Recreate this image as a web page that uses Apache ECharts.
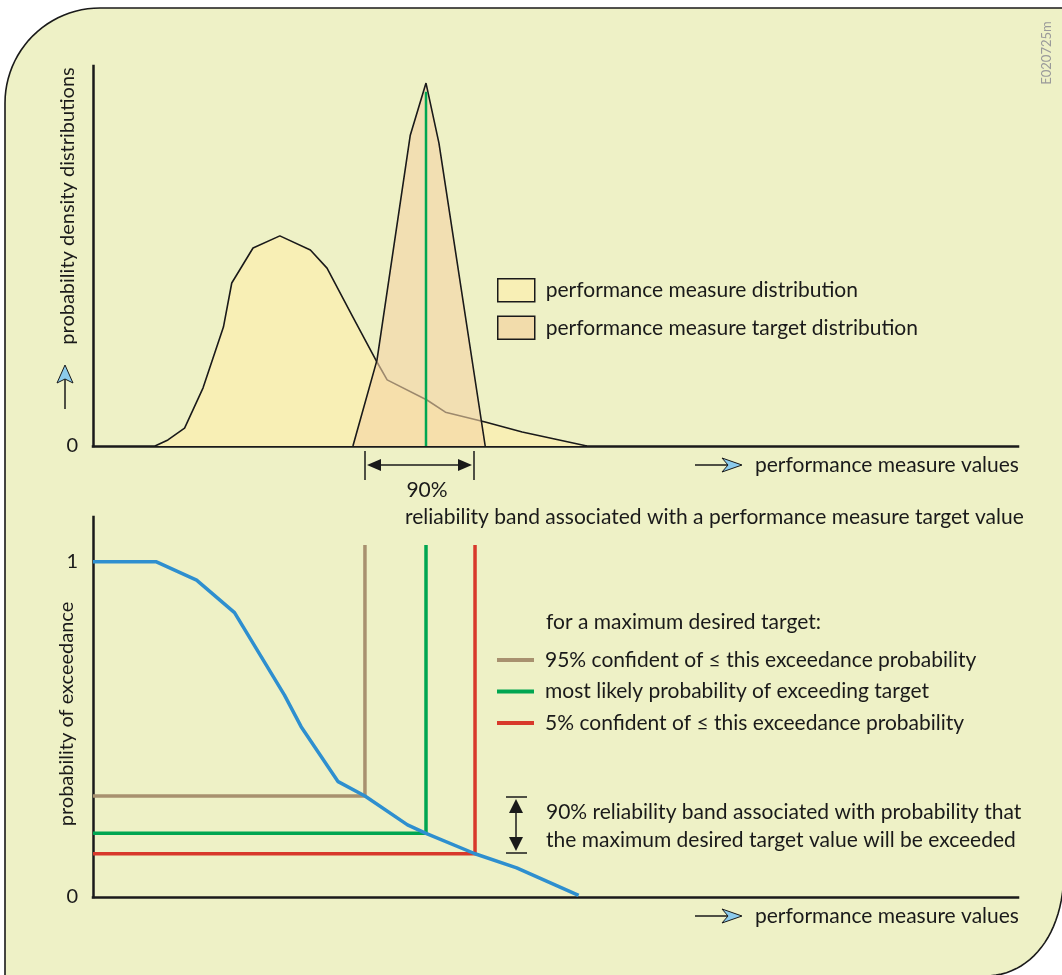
<!DOCTYPE html>
<html>
<head>
<meta charset="utf-8">
<script src="https://cdn.jsdelivr.net/npm/echarts@6/dist/echarts.min.js"></script>
<style>
  html, body { margin: 0; padding: 0; background: #ffffff; }
  #chart { width: 1062px; height: 975px; }
</style>
</head>
<body>
<div id="chart"></div>
<script>
// ---------- data ----------
// top panel: probability density of the performance measure
const perfX = [6.7, 8.1, 9.9, 11.9, 14.1, 15.0, 17.3, 20.2, 23.5, 25.3, 28.1, 30.7, 31.8, 36.1, 38.1, 42.4, 46.4, 53.4];
const perfY = [0, 1.6, 4.7, 15.3, 31.3, 42.9, 52.1, 55.3, 51.6, 46.8, 33.9, 22.1, 17.4, 12.1, 8.9, 6.3, 3.7, 0];
// top panel: target distribution
const targetX = [28.1, 30.7, 34.3, 36.0, 37.4, 42.4];
const targetY = [0, 22.6, 81.8, 95.5, 79.7, 0];
// most likely target value (green marker in the top panel)
const mostLikelyX = 36.0;
const mostLikelyTop = 93.2;
// bottom panel: probability of exceedance curve
const excX = [0, 6.8, 11.2, 15.3, 20.7, 22.5, 26.5, 29.4, 34.0, 36.0, 41.3, 45.8, 52.5];
const excY = [1.0, 1.0, 0.945, 0.848, 0.602, 0.508, 0.344, 0.301, 0.215, 0.190, 0.129, 0.087, 0.005];
// bottom panel: target quantiles and their exceedance probabilities
const quantileNames = [
  '95% confident of \u2264 this exceedance probability',
  'most likely probability of exceeding target',
  '5% confident of \u2264 this exceedance probability'
];
const quantileX = [29.4, 36.0, 41.3];
const quantileP = [0.301, 0.190, 0.129];
const quantileTop = 1.05;
// labels
const densityNames = ['performance measure distribution', 'performance measure target distribution'];
const yTickLabelsTop = { 0: '0' };
const yTickLabelsBottom = { 0: '0', 1: '1' };

// ---------- styles ----------
const FONT = 'Lato';
const FS = 21;
const INK = '#1a1a1a';
const quantileColors = ['#a8916f', '#00a651', '#d8392b'];

const chart = echarts.init(document.getElementById('chart'), null, { renderer: 'canvas' });

function zip(a, b) { return a.map((v, i) => [v, b[i]]); }

const axisLineStyle = { color: INK, width: 2.5, cap: 'square' };

const series = [
  {
    name: densityNames[0], type: 'line', xAxisIndex: 0, yAxisIndex: 0,
    data: zip(perfX, perfY), symbol: 'none', z: 2,
    itemStyle: { color: '#f8efb5' },
    lineStyle: { color: INK, width: 1.6 },
    areaStyle: { color: '#f8efb5', opacity: 1 }
  },
  {
    name: densityNames[1], type: 'line', xAxisIndex: 0, yAxisIndex: 0,
    data: zip(targetX, targetY), symbol: 'none', z: 3,
    itemStyle: { color: '#f2dcab' },
    lineStyle: { color: INK, width: 1.6 },
    areaStyle: { color: '#f5d3a5', opacity: 0.6 }
  },
  {
    name: 'most likely target', type: 'line', xAxisIndex: 0, yAxisIndex: 0,
    data: [[mostLikelyX, 0], [mostLikelyX, mostLikelyTop]], symbol: 'none', z: 4,
    lineStyle: { color: '#00a651', width: 2.5 }
  }
];
quantileNames.forEach((n, i) => {
  series.push({
    name: n, type: 'line', xAxisIndex: 1, yAxisIndex: 1,
    data: [[0, quantileP[i]], [quantileX[i], quantileP[i]], [quantileX[i], quantileTop]],
    symbol: 'none', z: 3,
    itemStyle: { color: quantileColors[i] },
    lineStyle: { color: quantileColors[i], width: 3.5, join: 'miter' }
  });
});
series.push({
  name: 'probability of exceedance', type: 'line', xAxisIndex: 1, yAxisIndex: 1,
  data: zip(excX, excY), symbol: 'none', z: 5,
  lineStyle: { color: '#2e8fcf', width: 3.5 }
});

// ---------- decorations ----------
function panelOutline() {
  const pts = [[5, 995]];
  for (let i = 0; i <= 24; i++) {
    const a = Math.PI + (Math.PI / 2) * (i / 24);
    pts.push([100 + 95 * Math.cos(a), 103 + 95 * Math.sin(a)]);
  }
  pts.push([1064, 8]);
  const p0 = [1064, 870], p1 = [1064, 935], p2 = [1030, 976], p3 = [985, 976];
  for (let i = 0; i <= 24; i++) {
    const t = i / 24, u = 1 - t;
    pts.push([
      u * u * u * p0[0] + 3 * u * u * t * p1[0] + 3 * u * t * t * p2[0] + t * t * t * p3[0],
      u * u * u * p0[1] + 3 * u * u * t * p1[1] + 3 * u * t * t * p2[1] + t * t * t * p3[1]
    ]);
  }
  pts.push([985, 995]);
  return pts;
}

const txt = (text, x, y, extra) => ({
  type: 'text', x: x, y: y, z: 100,
  style: Object.assign({ text: text, fill: INK, font: FS + 'px ' + FONT, textVerticalAlign: 'middle', verticalAlign: 'middle' }, extra || {})
});
const ln = (x1, y1, x2, y2, w) => ({
  type: 'line', z: 100, shape: { x1: x1, y1: y1, x2: x2, y2: y2 },
  style: { stroke: INK, lineWidth: w || 1.5 }
});
const poly = (pts, fill, stroke) => ({
  type: 'polygon', z: 101, shape: { points: pts },
  style: { fill: fill, stroke: stroke || null, lineWidth: 1 }
});

const graphic = [
  {
    type: 'polygon', z: -10, silent: true,
    shape: { points: panelOutline() },
    style: { fill: '#eef1c6', stroke: INK, lineWidth: 1.6 }
  },
  Object.assign(txt('probability density distributions', 68, 206, { font: '20px ' + FONT, align: 'center', textAlign: 'center' }), { rotation: Math.PI / 2 }),
  Object.assign(txt('probability of exceedance', 67, 714, { font: '20px ' + FONT, align: 'center', textAlign: 'center' }), { rotation: Math.PI / 2 }),
  ln(65, 379, 65, 409, 1.5),
  poly([[65, 365], [57, 383], [65, 379], [73, 383]], '#8ccbec', INK),
  txt('performance measure values', 755, 465),
  ln(695, 465, 729, 465, 1.5),
  poly([[742, 465], [722, 458], [728, 465], [722, 472]], '#8ccbec', INK),
  txt('performance measure values', 755, 916),
  ln(695, 916, 729, 916, 1.5),
  poly([[742, 916], [722, 909], [728, 916], [722, 923]], '#8ccbec', INK),
  ln(365, 451, 365, 480, 1.5),
  ln(474, 451, 474, 480, 1.5),
  ln(375, 465, 464, 465, 1.5),
  poly([[367, 465], [381, 459], [381, 471]], INK),
  poly([[472, 465], [458, 459], [458, 471]], INK),
  txt('90%', 427, 490, { align: 'center', textAlign: 'center' }),
  txt('reliability band associated with a performance measure target value', 405, 517),
  txt('for a maximum desired target:', 546, 622),
  ln(506, 797, 527, 797, 1.5),
  ln(506, 853, 527, 853, 1.5),
  ln(516, 808, 516, 842, 1.5),
  poly([[516, 799], [509, 813], [523, 813]], INK),
  poly([[516, 851], [509, 837], [523, 837]], INK),
  txt('90% reliability band associated with probability that', 546, 812),
  txt('the maximum desired target value will be exceeded', 546, 840),
  Object.assign(txt('E020725m', 1047, 53, { font: '13px ' + FONT, fill: '#9a9a9a', align: 'center', textAlign: 'center' }), { rotation: Math.PI / 2 })
];

const option = {
  animation: false,
  backgroundColor: 'transparent',
  textStyle: { fontFamily: FONT },
  grid: [
    { left: 93, top: 66, width: 925, height: 380 },
    { left: 93, top: 517, width: 925, height: 380 }
  ],
  xAxis: [
    { type: 'value', gridIndex: 0, min: 0, max: 100, axisLine: { lineStyle: axisLineStyle }, axisTick: { show: false }, axisLabel: { show: false }, splitLine: { show: false } },
    { type: 'value', gridIndex: 1, min: 0, max: 100, axisLine: { lineStyle: axisLineStyle }, axisTick: { show: false }, axisLabel: { show: false }, splitLine: { show: false } }
  ],
  yAxis: [
    { type: 'value', gridIndex: 0, min: 0, max: 100, interval: 100,
      axisLine: { show: true, lineStyle: axisLineStyle }, axisTick: { show: false }, splitLine: { show: false },
      axisLabel: { margin: 15, fontSize: 20, color: INK, fontFamily: FONT, formatter: v => yTickLabelsTop[v] || '' } },
    { type: 'value', gridIndex: 1, min: 0, max: 1.1333, interval: 1,
      axisLine: { show: true, lineStyle: axisLineStyle }, axisTick: { show: false }, splitLine: { show: false },
      axisLabel: { margin: 15, fontSize: 20, color: INK, fontFamily: FONT, showMaxLabel: false, formatter: v => yTickLabelsBottom[v] || '' } }
  ],
  legend: [
    {
      selectedMode: false, orient: 'vertical', left: 497, top: 278, padding: 0,
      itemWidth: 37, itemHeight: 23, itemGap: 13,
      textStyle: { fontSize: FS, color: INK, fontFamily: FONT, padding: [0, 0, 0, 6] },
      data: [
        { name: densityNames[0], icon: 'rect', itemStyle: { color: '#f8efb5', borderColor: INK, borderWidth: 1.5 } },
        { name: densityNames[1], icon: 'rect', itemStyle: { color: '#f2dcab', borderColor: INK, borderWidth: 1.5 } }
      ]
    },
    {
      selectedMode: false, orient: 'vertical', left: 497, top: 649, padding: 0,
      itemWidth: 37, itemHeight: 4, itemGap: 9.5,
      textStyle: { fontSize: FS, color: INK, fontFamily: FONT, lineHeight: 22, padding: [0, 0, 0, 6] },
      data: quantileNames.map((n, i) => ({ name: n, icon: 'rect', itemStyle: { color: quantileColors[i], borderWidth: 0 } }))
    }
  ],
  graphic: graphic,
  series: series
};
chart.setOption(option);
</script>
</body>
</html>
